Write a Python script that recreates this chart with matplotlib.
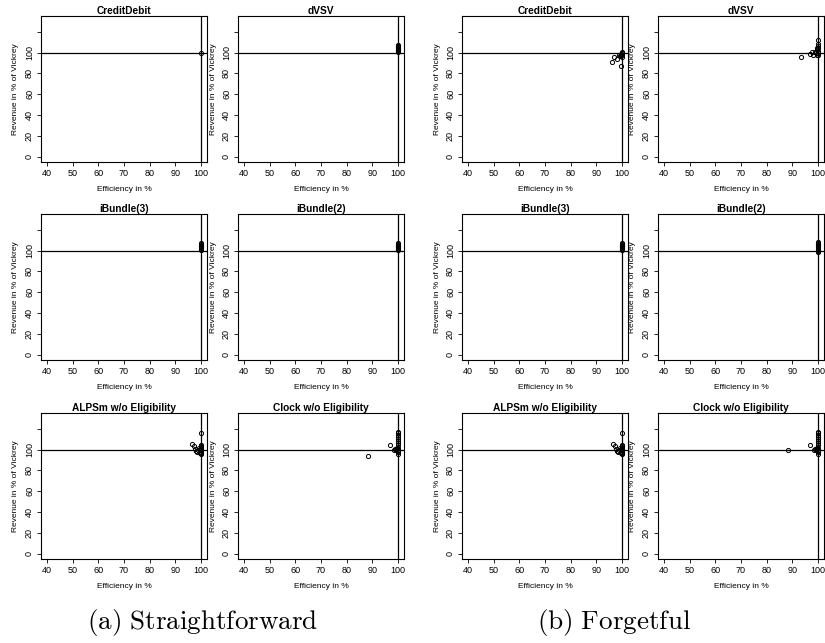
import matplotlib.pyplot as plt

plt.rcParams['font.family'] = ['Liberation Sans', 'DejaVu Sans']
plt.rcParams['mathtext.fontset'] = 'cm'

titles = ['CreditDebit', 'dVSV', 'iBundle(3)', 'iBundle(2)',
          'ALPSm w/o Eligibility', 'Clock w/o Eligibility']

# (a) Straightforward: efficiency / revenue per auction format
sf_eff = {
    'CreditDebit': [100.0],
    'dVSV': [100, 100, 100, 100, 100, 100, 100, 100, 100, 100],
    'iBundle(3)': [100, 100, 100, 100, 100, 100, 100, 100, 100],
    'iBundle(2)': [100, 100, 100, 100, 100, 100, 100, 100, 100],
    'ALPSm w/o Eligibility': [96.5, 97.3, 97.8, 98.2, 98.6, 99.0, 99.3, 99.6, 99.8,
                              100, 100, 100, 100, 100, 100, 100, 100, 100, 100, 100],
    'Clock w/o Eligibility': [88.5, 96.8, 98.5, 99.0, 99.3, 99.6, 99.8, 100, 100, 100,
                              100, 100, 100, 100, 100, 100, 100, 100, 100, 100],
}
sf_rev = {
    'CreditDebit': [100.0],
    'dVSV': [100.5, 101.5, 102.3, 103.0, 103.8, 104.5, 105.3, 106.0, 106.8, 107.5],
    'iBundle(3)': [100.5, 101.5, 102.3, 103.2, 104.0, 104.8, 105.6, 106.4, 107.2],
    'iBundle(2)': [100.5, 101.5, 102.3, 103.2, 104.0, 104.8, 105.6, 106.4, 107.2],
    'ALPSm w/o Eligibility': [105.0, 103.0, 101.0, 98.5, 97.5, 99.5, 101.5, 97.0, 100.0,
                              95.5, 96.5, 98.0, 99.5, 100.5, 101.5, 102.5, 103.5, 104.5, 97.0, 116.0],
    'Clock w/o Eligibility': [94.0, 104.0, 100.0, 101.0, 99.5, 100.5, 102.0, 96.0, 98.0, 100.0,
                              102.0, 104.0, 106.0, 108.0, 110.0, 112.0, 114.0, 115.5, 116.5, 99.0],
}

# (b) Forgetful
fg_eff = {
    'CreditDebit': [96.3, 97.0, 98.2, 98.8, 99.2, 99.5, 99.7, 99.9, 100, 100, 100, 100, 99.6],
    'dVSV': [93.5, 96.8, 97.8, 98.3, 98.8, 99.2, 99.5, 99.8, 100, 100, 100, 100, 100, 100, 100, 99.6],
    'iBundle(3)': [100, 100, 100, 100, 100, 100, 100, 100, 100],
    'iBundle(2)': [100, 100, 100, 100, 100, 100, 100, 100, 100, 100],
    'ALPSm w/o Eligibility': [96.5, 97.3, 97.8, 98.2, 98.6, 99.0, 99.3, 99.6, 99.8,
                              100, 100, 100, 100, 100, 100, 100, 100, 100, 100, 100],
    'Clock w/o Eligibility': [88.5, 96.8, 98.5, 99.0, 99.3, 99.6, 99.8, 100, 100, 100,
                              100, 100, 100, 100, 100, 100, 100, 100, 100, 100],
}
fg_rev = {
    'CreditDebit': [91.0, 96.0, 94.0, 97.5, 96.5, 98.0, 99.0, 100.0, 101.0, 99.5, 97.5, 95.5, 87.5],
    'dVSV': [95.5, 99.0, 100.5, 98.0, 101.0, 99.5, 103.0, 104.5, 97.5, 100.0, 102.0,
             104.0, 106.0, 108.0, 112.0, 98.0],
    'iBundle(3)': [100.5, 101.5, 102.3, 103.2, 104.0, 104.8, 105.6, 106.4, 107.2],
    'iBundle(2)': [99.0, 100.0, 101.0, 102.0, 103.0, 104.0, 105.0, 106.0, 107.0, 108.5],
    'ALPSm w/o Eligibility': [105.0, 103.0, 101.0, 98.5, 97.5, 99.5, 101.5, 97.0, 100.0,
                              95.5, 96.5, 98.0, 99.5, 100.5, 101.5, 102.5, 103.5, 104.5, 97.0, 116.0],
    'Clock w/o Eligibility': [100.0, 104.0, 100.0, 101.0, 99.5, 100.5, 102.0, 96.0, 98.0, 100.0,
                              102.0, 104.0, 106.0, 108.0, 110.0, 112.0, 114.0, 115.5, 116.5, 99.0],
}

x_ticks = [40, 50, 60, 70, 80, 90, 100]
y_ticks = [0, 20, 40, 60, 80, 100, 120]
y_labels = ['0', '20', '40', '60', '80', '100', '']


def draw_panel(ax, title, eff, rev):
    ax.axhline(100, color='black', lw=0.9, zorder=1)
    ax.axvline(100, color='black', lw=0.9, zorder=1)
    ax.plot(eff, rev, 'o', ms=3.0, mfc='none', mec='black', mew=0.7, zorder=2)
    ax.set_xlim(37.6, 102.4)
    ax.set_ylim(-5.2, 135.2)
    ax.set_xticks(x_ticks)
    ax.set_yticks(y_ticks)
    ax.set_yticklabels(y_labels, rotation=90, va='center')
    ax.tick_params(labelsize=6.5, length=3, width=0.6, pad=2)
    ax.set_title(title, fontsize=7.3, fontweight='bold', pad=1.5)
    ax.set_xlabel('Efficiency in %', fontsize=6, labelpad=6)
    ax.set_ylabel('Revenue in % of Vickrey', fontsize=6, labelpad=4)
    for s in ax.spines.values():
        s.set_linewidth(0.8)


fig = plt.figure(figsize=(8.25, 6.43), dpi=100)
W, H = 825.0, 643.0
lefts = [41, 238, 462, 658]
tops = [16, 214, 413]
pw, ph = 166, 146

for i, title in enumerate(titles):
    row, col = i // 2, i % 2
    for g, (eff, rev) in enumerate([(sf_eff, sf_rev), (fg_eff, fg_rev)]):
        left = lefts[g * 2 + col]
        top = tops[row]
        ax = fig.add_axes([left / W, 1 - (top + ph) / H, pw / W, ph / H])
        draw_panel(ax, title, eff[title], rev[title])

fig.text(203 / W, 1 - 622 / H, r'$\mathrm{(a)\ Straightforward}$', fontsize=19.5,
         ha='center', va='center')
fig.text(614 / W, 1 - 622 / H, r'$\mathrm{(b)\ Forgetful}$', fontsize=19.5,
         ha='center', va='center')

fig.savefig('out.png', dpi=100)
